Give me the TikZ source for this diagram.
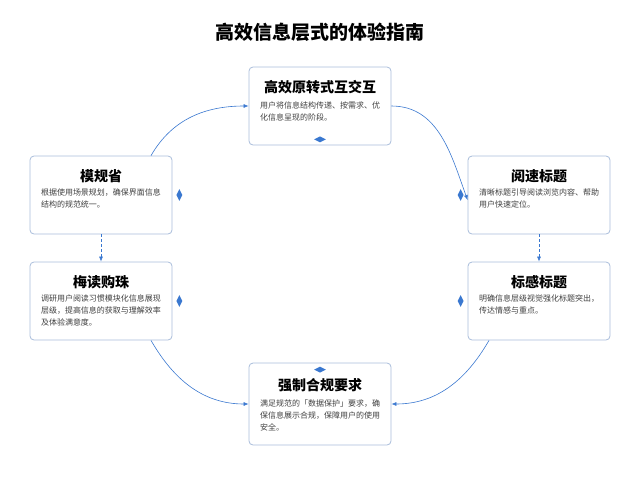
\documentclass[tikz,border=0pt]{standalone}
\usepackage{fontspec}
\newfontfamily\cjk{Noto Sans CJK SC}
\XeTeXlinebreaklocale "zh"
\XeTeXlinebreakskip = 0pt plus 1pt
\usetikzlibrary{arrows.meta,shapes.geometric}
\definecolor{flowblue}{HTML}{3A78D0}
\definecolor{boxline}{HTML}{A9BDDB}
\begin{document}
\begin{tikzpicture}[x=1pt,y=-1pt,
    card/.style={draw=boxline,line width=0.8pt,rounded corners=4pt,fill=white,
                 minimum width=142pt,minimum height=78pt},
    head/.style={font=\cjk\bfseries\fontsize{14}{16}\selectfont,anchor=north},
    body/.style={font=\cjk\fontsize{8}{12}\selectfont,text width=120pt,align=left,anchor=north,text=black!75},
    tick/.style={diamond,fill=flowblue,inner sep=0pt,minimum width=12pt,minimum height=6pt},
    vtick/.style={tick,minimum width=6pt,minimum height=12pt},
    flow/.style={flowblue,line width=0.6pt,-{Latex[length=5pt,width=4pt]}}]
  \useasboundingbox (0,0) rectangle (640,480);
  \node[font=\cjk\bfseries\fontsize{19}{22}\selectfont] (title) at (320,32) {高效信息层式的体验指南};
  % cards
  \node[card] (top) at (320,106) {};
  \node[card] (lone) at (101,195) {};
  \node[card] (ltwo) at (101,301) {};
  \node[card] (rone) at (539,195) {};
  \node[card] (rtwo) at (539,301) {};
  \node[card,minimum height=82pt] (bot) at (320,404) {};
  % connectors
  \begin{scope}[on background layer/.style={}]
  \draw[flow] ([xshift=50pt]lone.north) to[out=60,in=180] (top.west);
  \draw[flow] (top.east) to[out=0,in=110] ([yshift=-5pt]rone.west);
  \draw[flow] ([xshift=50pt]ltwo.south) to[out=-60,in=180] (bot.west);
  \draw[flow] ([xshift=-50pt]rtwo.south) to[out=-120,in=0] (bot.east);
  \draw[flow,densely dashed] (lone.south) -- (ltwo.north);
  \draw[flow,densely dashed] (rone.south) -- (rtwo.north);
  \end{scope}
  % texts
  \node[head] at ([yshift=-10pt]top.north) {高效原转式互交互};
  \node[body] at ([yshift=-32pt]top.north) {用户将信息结构传递、按需求、优化信息呈现的阶段。};
  \node[head] at ([yshift=-10pt]lone.north) {模规省};
  \node[body] at ([yshift=-30pt]lone.north) {根据使用场景规划，确保界面信息结构的规范统一。};
  \node[head] at ([yshift=-10pt]ltwo.north) {梅读购珠};
  \node[body] at ([yshift=-30pt]ltwo.north) {调研用户阅读习惯模块化信息展现层级，提高信息的获取与理解效率及体验满意度。};
  \node[head] at ([yshift=-10pt]rone.north) {阅速标题};
  \node[body] at ([yshift=-30pt]rone.north) {清晰标题引导阅读浏览内容、帮助用户快速定位。};
  \node[head] at ([yshift=-10pt]rtwo.north) {标感标题};
  \node[body] at ([yshift=-30pt]rtwo.north) {明确信息层级视觉强化标题突出，传达情感与重点。};
  \node[head] at ([yshift=-12pt]bot.north) {强制合规要求};
  \node[body] at ([yshift=-34pt]bot.north) {满足规范的「数据保护」要求，确保信息展示合规，保障用户的使用安全。};
  % markers
  \node[tick] (mtop) at ([yshift=6pt]top.south) {};
  \node[tick] (mbot) at ([yshift=-7pt]bot.north) {};
  \node[vtick] (mlone) at ([xshift=7pt]lone.east) {};
  \node[vtick] (mltwo) at ([xshift=7pt]ltwo.east) {};
  \node[vtick] (mrone) at ([xshift=-7pt]rone.west) {};
  \node[vtick] (mrtwo) at ([xshift=-7pt]rtwo.west) {};
\end{tikzpicture}
\end{document}
